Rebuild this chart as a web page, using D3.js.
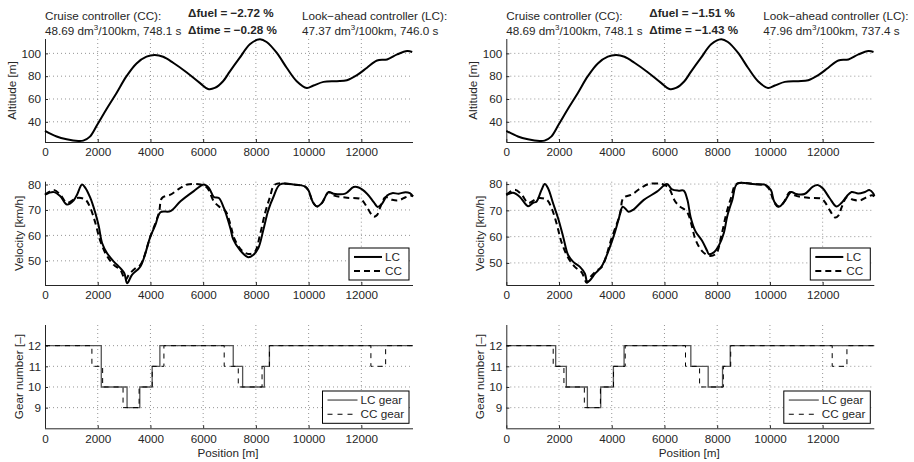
<!DOCTYPE html>
<html>
<head>
<meta charset="utf-8">
<script src="https://cdn.jsdelivr.net/npm/d3@7"></script>
<style>
body { margin: 0; background: #fff; }
text { font-family: "Liberation Sans", Arial, sans-serif; font-size: 11.7px; fill: #262626; }
.axis path, .axis line { stroke: #262626; }
.axis text { font-family: "Liberation Sans", Arial, sans-serif; font-size: 11.7px; fill: #262626; }
</style>
</head>
<body>
<svg width="914" height="462"></svg>
<script>
(function() {

  // ---- data ----
  var xTicks = [0, 2000, 4000, 6000, 8000, 10000, 12000];
  var altTicks = [40, 60, 80, 100];
  var velTicks = [50, 60, 70, 80];
  var gearTicks = [9, 10, 11, 12];

  var altPos = [0, 442, 820, 1263, 1452, 1705, 1982, 2336, 2715, 3093, 3472, 3851, 4167, 4482, 4861, 5366, 5871, 6187, 6439, 6755, 7008, 7390, 7771, 8152, 8406, 8787, 9168, 9549, 9930, 10184, 10565, 11073, 11454, 11835, 12216, 12597, 12978, 13359, 13740, 13930];
  var altVal = [32.1, 27.1, 24.7, 23.2, 23.5, 27, 37.4, 51.2, 65.3, 80, 91.2, 97.1, 98.5, 97, 91.8, 83.5, 74.1, 68.8, 69.7, 75.6, 84, 96.2, 108, 112.4, 110, 100.6, 87.4, 75.6, 69.7, 71.8, 75, 75.6, 76.5, 80.9, 87.4, 93.8, 94.7, 99.1, 102, 101.2];

  var ccPos = [0, 330, 580, 835, 1090, 1215, 1530, 1720, 1910, 2100, 2355, 2610, 2860, 3050, 3180, 3430, 3620, 4000, 4320, 4440, 4760, 5080, 5400, 5900, 6150, 6405, 6595, 6850, 7040, 7172, 7427, 7708, 7962, 8152, 8343, 8533, 8724, 9422, 9867, 9994, 10159, 10311, 10502, 10756, 10946, 11454, 11962, 12089, 12280, 12470, 12597, 12724, 12914, 13168, 13422, 13676, 13867, 13960];
  var ccVal = [76, 77.8, 76, 72.8, 74.1, 74.7, 74.1, 70.8, 64.9, 57.7, 51.8, 48.4, 46.4, 42.5, 44.5, 47.1, 48.4, 59.6, 68.8, 74.7, 76, 78.3, 80, 80, 78.7, 73.4, 71.4, 69.5, 64, 59, 54.5, 52.7, 53.6, 60.1, 68.6, 75, 80, 80, 79.2, 77.7, 73.1, 71.4, 72.7, 77, 75.7, 74.8, 74.4, 73.1, 69.9, 67.3, 68, 71.2, 75, 74, 73.8, 75, 75.7, 75.3];

  var lcLPos = [0, 330, 580, 835, 1090, 1215, 1405, 1530, 1720, 1910, 2040, 2165, 2355, 2610, 2860, 3010, 3115, 3300, 3620, 4000, 4190, 4380, 4760, 5140, 5645, 6025, 6215, 6405, 6595, 6785, 6880, 7040, 7137, 7390, 7708, 7898, 8089, 8279, 8470, 8660, 8914, 9422, 9867, 9994, 10159, 10311, 10502, 10756, 10946, 11390, 11708, 11900, 12216, 12470, 12622, 12787, 12978, 13168, 13422, 13676, 13841, 13960];
  var lcLVal = [76, 77, 75.4, 72.1, 73.8, 76, 80, 78.7, 74.7, 68.8, 63.6, 57, 53, 49.7, 47.1, 45.1, 41.2, 44.5, 47.8, 59.6, 64.2, 69.1, 69.5, 73.4, 77.4, 80, 78.7, 75.1, 74.7, 70.8, 68, 62.5, 58.5, 54.3, 51.4, 52.3, 54.9, 62, 69.9, 75, 80, 80, 79.2, 77.7, 73.1, 71.4, 72.7, 77, 76.4, 76.4, 79, 78.8, 76.4, 73.1, 71.2, 72.5, 75.7, 76.6, 76.4, 77, 76.6, 75.3];

  var lcRPos = [0, 254, 508, 825, 1016, 1143, 1333, 1460, 1587, 1778, 1968, 2159, 2349, 2540, 2794, 2984, 3073, 3175, 3365, 3619, 4063, 4254, 4419, 4635, 4825, 5206, 5714, 6095, 6286, 6540, 6730, 6870, 6990, 7172, 7427, 7618, 7682, 7873, 8064, 8255, 8382, 8573, 8764, 9337, 9847, 10038, 10166, 10357, 10548, 10803, 10994, 11312, 11631, 11822, 12013, 12268, 12522, 12713, 12904, 13096, 13350, 13605, 13771, 13924, 13960];
  var lcRVal = [75.8, 76.7, 75.2, 71.6, 72.9, 73.3, 77.7, 80, 78.3, 72.6, 66.9, 59.9, 52.9, 50.4, 48.5, 45.9, 42.6, 43.4, 45.9, 48.7, 59.9, 66.3, 71.4, 69.5, 70.3, 73.9, 77.1, 80, 78, 77.5, 77.5, 74, 67.5, 62.1, 58.4, 54.6, 53.4, 54, 56.6, 61.5, 67.8, 74, 80.2, 80, 79.6, 77.7, 73.3, 71.5, 73.3, 77, 76.2, 76.2, 79, 79.6, 78.3, 74.6, 71.5, 72.8, 75.2, 77, 76.4, 77, 77.7, 76.4, 75.4];

  // gear change points: [position, gear from here on]
  var lcGearL = [[0, 12], [2135, 10], [3113, 9], [3596, 10], [4066, 11], [4358, 12], [7141, 11], [7497, 10], [8323, 11], [8513, 12], [13960, 12]];
  var ccGear = [[0, 12], [1779, 11], [2186, 10], [2961, 9], [3570, 10], [4066, 11], [4511, 12], [6798, 11], [7332, 10], [8234, 11], [8513, 12], [12363, 11], [12922, 12], [13960, 12]];
  var lcGearR = [[0, 12], [1873, 11], [2278, 10], [3076, 9], [3582, 10], [4063, 11], [4468, 12], [7000, 11], [7658, 10], [8203, 11], [8494, 12], [13960, 12]];

  var columns = [
    {x0: 45, lcPos: lcLPos, lcVal: lcLVal, lcGear: lcGearL, velDomain: [40.5, 81.1],
     cc: '48.69', ccTime: '748.1', lc: '47.37', lcTime: '746.0', dFuel: '\u22122.72', dTime: '\u22120.28'},
    {x0: 506.3, lcPos: lcRPos, lcVal: lcRVal, lcGear: lcGearR, velDomain: [41.6, 80.9],
     cc: '48.69', ccTime: '748.1', lc: '47.96', lcTime: '737.4', dFuel: '\u22121.51', dTime: '\u22121.43'}
  ];

  var rows = [{top: 39, bottom: 142}, {top: 181.7, bottom: 285}, {top: 325, bottom: 428.3}];
  var plotW = 368;

  var svg = d3.select('svg');

  function zip(a, b) {
    return a.map(function(d, i) { return [d, b[i]]; });
  }

  function panel(col, row, yDomain, yTicks, yLabel, labelOff) {
    var x = d3.scaleLinear().domain([0, 13960]).range([col.x0, col.x0 + plotW]);
    var y = d3.scaleLinear().domain(yDomain).range([row.bottom, row.top]);
    var g = svg.append('g');

    // dotted grid
    g.selectAll('.gx').data(xTicks.slice(1)).enter().append('line')
      .attr('x1', function(d) { return x(d); }).attr('x2', function(d) { return x(d); })
      .attr('y1', row.top).attr('y2', row.bottom)
      .attr('stroke', '#7a7a7a').attr('stroke-width', 0.8).attr('stroke-dasharray', '1,3');
    g.selectAll('.gy').data(yTicks).enter().append('line')
      .attr('x1', col.x0).attr('x2', col.x0 + plotW)
      .attr('y1', function(d) { return y(d); }).attr('y2', function(d) { return y(d); })
      .attr('stroke', '#7a7a7a').attr('stroke-width', 0.8).attr('stroke-dasharray', '1,3');

    var ax = g.append('g').attr('class', 'axis')
      .attr('transform', 'translate(0,' + row.bottom + ')')
      .call(d3.axisBottom(x).tickValues(xTicks).tickSizeInner(-3).tickSizeOuter(0).tickPadding(6).tickFormat(d3.format('d')));
    var ay = g.append('g').attr('class', 'axis')
      .attr('transform', 'translate(' + col.x0 + ',0)')
      .call(d3.axisLeft(y).tickValues(yTicks).tickSizeInner(-3).tickSizeOuter(0).tickPadding(4).tickFormat(d3.format('d')));
    ax.select('.domain').attr('d', 'M' + col.x0 + ',0.5H' + (col.x0 + plotW));
    ay.select('.domain').attr('d', 'M0.5,' + row.top + 'V' + row.bottom);

    g.append('text')
      .attr('transform', 'translate(' + (col.x0 - labelOff) + ',' + ((row.top + row.bottom) / 2) + ') rotate(-90)')
      .attr('text-anchor', 'middle').attr('dy', '0.35em')
      .text(yLabel);

    return {g: g, x: x, y: y};
  }

  function legend(g, x1, y1, w, h, items) {
    var lg = g.append('g');
    lg.append('rect').attr('x', x1).attr('y', y1).attr('width', w).attr('height', h)
      .attr('fill', '#fff').attr('stroke', '#000').attr('stroke-width', 1);
    items.forEach(function(it, i) {
      var cy = y1 + h * (i === 0 ? 0.28 : 0.72);
      lg.append('line').attr('x1', x1 + 5).attr('x2', x1 + it.len)
        .attr('y1', cy).attr('y2', cy)
        .attr('stroke', it.color).attr('stroke-width', it.width)
        .attr('stroke-dasharray', it.dash || null);
      lg.append('text').attr('x', x1 + it.len + 3).attr('y', cy).attr('dy', '0.35em').text(it.label);
    });
  }

  columns.forEach(function(col) {
    // header texts
    var hd = svg.append('g');
    hd.append('text').attr('x', col.x0).attr('y', 20).text('Cruise controller (CC):');
    var t1 = hd.append('text').attr('x', col.x0).attr('y', 35);
    t1.append('tspan').text(col.cc + ' dm');
    t1.append('tspan').attr('dy', -5).style('font-size', '8px').text('3');
    t1.append('tspan').attr('dy', 5).text('/100km, ' + col.ccTime + ' s');
    hd.append('text').attr('x', col.x0 + 143).attr('y', 17).style('font-weight', 'bold')
      .text('\u0394fuel = ' + col.dFuel + ' %');
    hd.append('text').attr('x', col.x0 + 143).attr('y', 34).style('font-weight', 'bold')
      .text('\u0394time = ' + col.dTime + ' %');
    hd.append('text').attr('x', col.x0 + 257).attr('y', 20).text('Look\u2212ahead controller (LC):');
    var t2 = hd.append('text').attr('x', col.x0 + 257).attr('y', 35);
    t2.append('tspan').text(col.lc + ' dm');
    t2.append('tspan').attr('dy', -5).style('font-size', '8px').text('3');
    t2.append('tspan').attr('dy', 5).text('/100km, ' + col.lcTime + ' s');

    // altitude
    var p1 = panel(col, rows[0], [22.3, 112.6], altTicks, 'Altitude [m]', 33.5);
    var altLine = d3.line().x(function(d) { return p1.x(d[0]); }).y(function(d) { return p1.y(d[1]); })
      .curve(d3.curveCatmullRom.alpha(0.5));
    p1.g.append('path').datum(zip(altPos, altVal)).attr('d', altLine)
      .attr('fill', 'none').attr('stroke', '#000').attr('stroke-width', 2);

    // velocity
    var p2 = panel(col, rows[1], col.velDomain, velTicks, 'Velocity [km/h]', 26.5);
    var vLine = d3.line().x(function(d) { return p2.x(d[0]); }).y(function(d) { return p2.y(d[1]); })
      .curve(d3.curveCatmullRom.alpha(0.5));
    p2.g.append('path').datum(zip(ccPos, ccVal)).attr('d', vLine)
      .attr('fill', 'none').attr('stroke', '#000').attr('stroke-width', 2).attr('stroke-dasharray', '6,4');
    p2.g.append('path').datum(zip(col.lcPos, col.lcVal)).attr('d', vLine)
      .attr('fill', 'none').attr('stroke', '#000').attr('stroke-width', 2);
    legend(p2.g, col.x0 + plotW - 64, rows[1].bottom - 37, 60, 32, [
      {label: 'LC', color: '#000', width: 2, len: 33},
      {label: 'CC', color: '#000', width: 2, len: 33, dash: '6,4'}
    ]);

    // gear
    var p3 = panel(col, rows[2], [8, 13], gearTicks, 'Gear number [\u2013]', 26.5);
    var gLine = d3.line().x(function(d) { return p3.x(d[0]); }).y(function(d) { return p3.y(d[1]); })
      .curve(d3.curveStepAfter);
    p3.g.append('path').datum(col.lcGear).attr('d', gLine)
      .attr('fill', 'none').attr('stroke', '#555').attr('stroke-width', 1.3);
    p3.g.append('path').datum(ccGear).attr('d', gLine)
      .attr('fill', 'none').attr('stroke', '#000').attr('stroke-width', 1).attr('stroke-dasharray', '5,5');
    legend(p3.g, col.x0 + plotW - 90.5, rows[2].bottom - 37.3, 86.5, 32.3, [
      {label: 'LC gear', color: '#555', width: 1.3, len: 35},
      {label: 'CC gear', color: '#000', width: 1, len: 35, dash: '5,5'}
    ]);

    svg.append('text').attr('x', col.x0 + plotW / 2 - 1).attr('y', 457).attr('text-anchor', 'middle')
      .text('Position [m]');
  });

})();
</script>
</body>
</html>
